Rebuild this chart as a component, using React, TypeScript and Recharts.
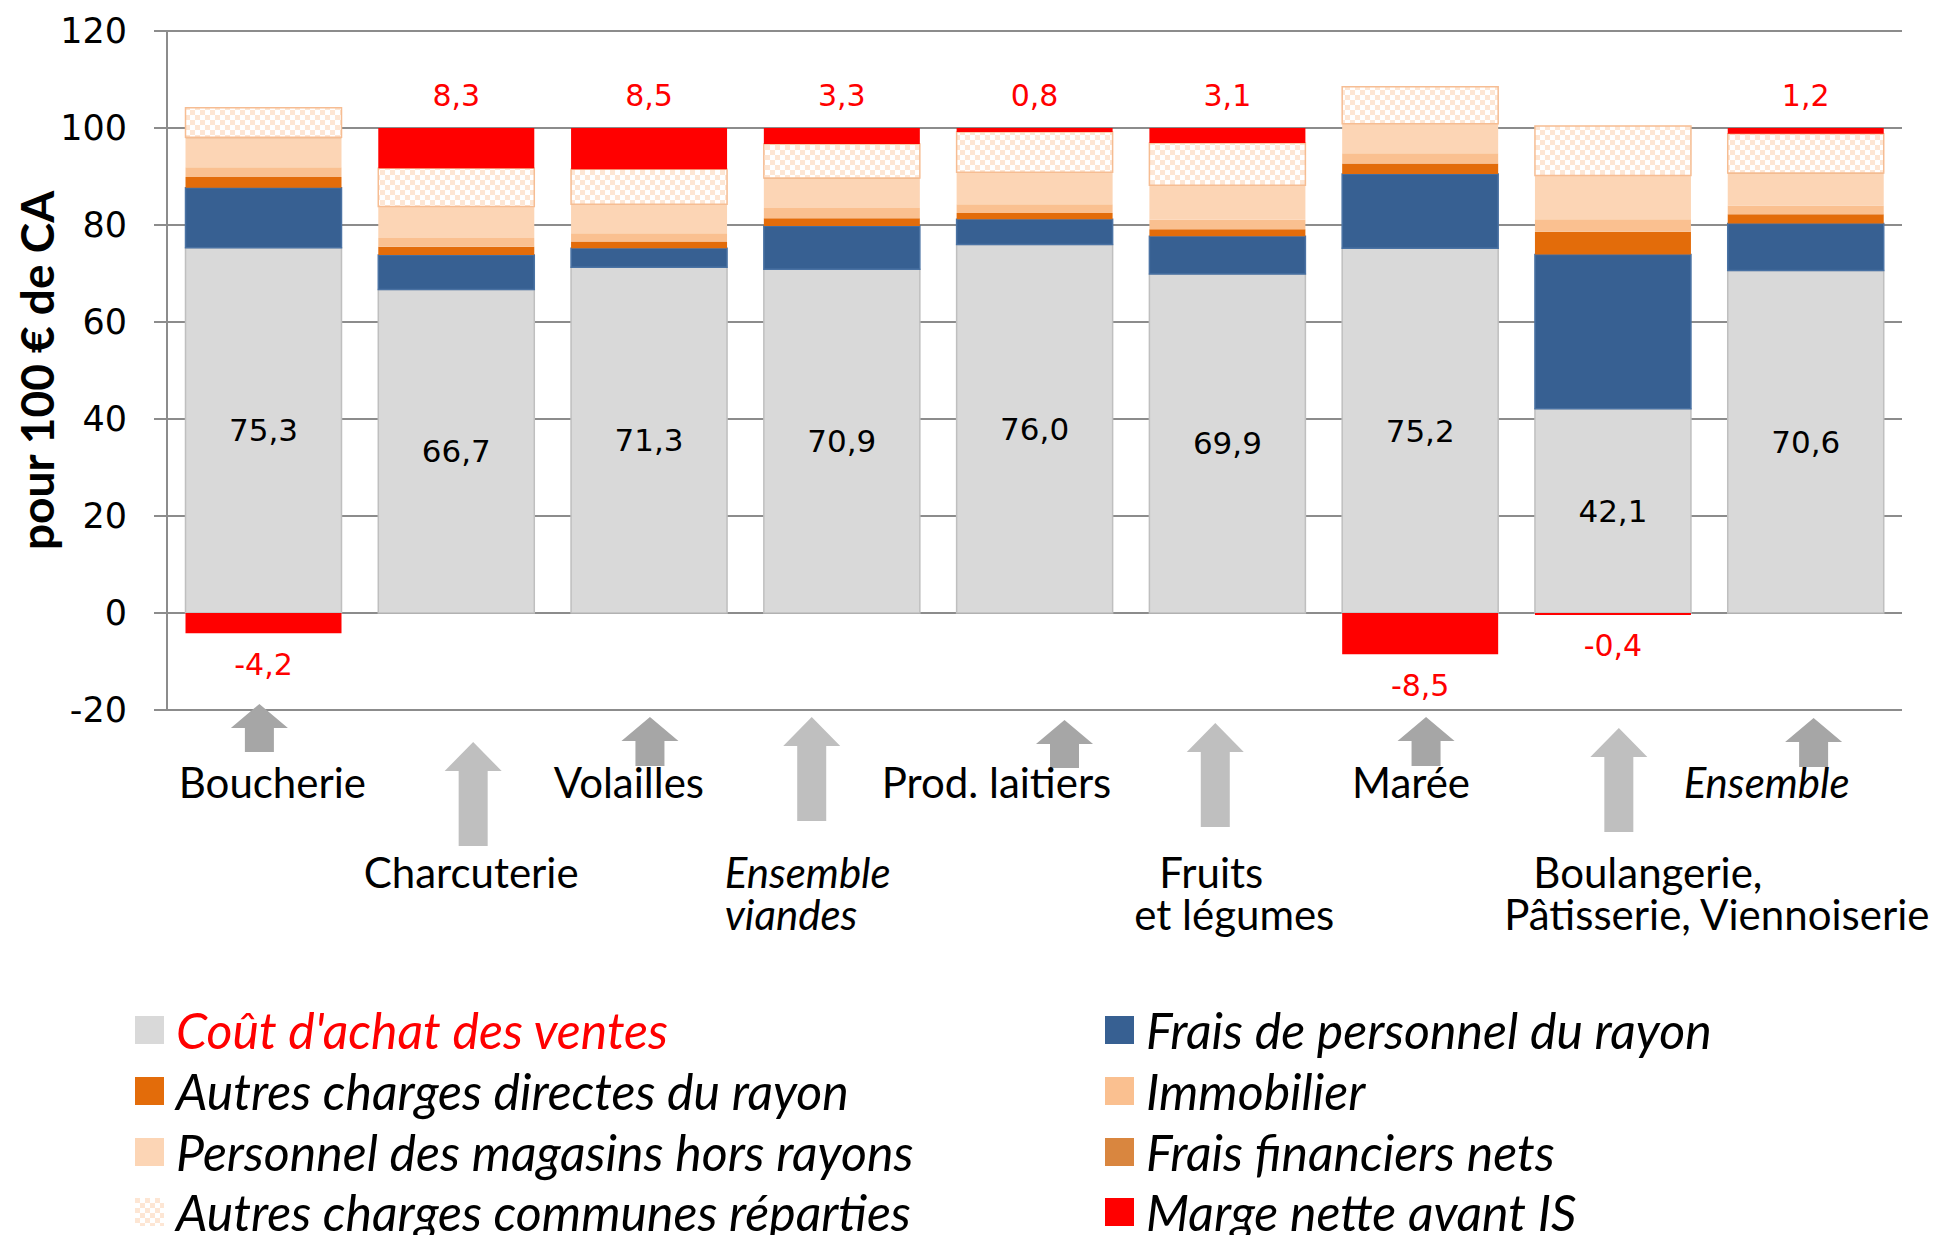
import React from 'react';
import { BarChart, Bar, XAxis, YAxis, CartesianGrid, LabelList, Label } from 'recharts';

// rayons (catégories) et libellés affichés sous l'axe
const categories = [
  'Boucherie',
  'Charcuterie',
  'Volailles',
  'Ensemble viandes',
  'Prod. laitiers',
  'Fruits et légumes',
  'Marée',
  'Boulangerie, Pâtisserie, Viennoiserie',
  'Ensemble',
];
const categoryLines = [
  ['Boucherie'],
  ['Charcuterie'],
  ['Volailles'],
  ['Ensemble', 'viandes'],
  ['Prod. laitiers'],
  ['Fruits', 'et légumes'],
  ['Marée'],
  ['Boulangerie,', 'Pâtisserie, Viennoiserie'],
  ['Ensemble'],
];
const italicCategories = ['Ensemble viandes', 'Ensemble'];

// pour 100 € de CA
const coutAchat = [75.3, 66.7, 71.3, 70.9, 76.0, 69.9, 75.2, 42.1, 70.6];
const fraisPersonnelRayon = [12.4, 7.1, 3.9, 8.9, 5.2, 7.8, 15.3, 31.8, 9.7];
const autresChargesDirectes = [2.2, 1.7, 1.4, 1.6, 1.3, 1.4, 2.2, 4.7, 1.9];
const immobilier = [2.0, 1.8, 1.7, 2.1, 1.8, 2.0, 2.1, 2.6, 1.8];
const personnelMagasins = [6.0, 6.4, 5.9, 6.1, 6.5, 7.0, 6.0, 8.9, 6.6];
const fraisFinanciers = [0.2, 0.1, 0.1, 0.1, 0.1, 0.1, 0.1, 0.1, 0.1];
const autresChargesCommunes = [6.1, 7.9, 7.2, 7.0, 8.3, 8.7, 7.6, 10.2, 8.1];
const margeNette = [-4.2, 8.3, 8.5, 3.3, 0.8, 3.1, -8.5, -0.4, 1.2];

const yTicks = [-20, 0, 20, 40, 60, 80, 100, 120];

const data = categories.map((name, i) => ({
  name,
  cout: coutAchat[i],
  persRayon: fraisPersonnelRayon[i],
  directes: autresChargesDirectes[i],
  immo: immobilier[i],
  persMag: personnelMagasins[i],
  financiers: fraisFinanciers[i],
  communes: autresChargesCommunes[i],
  marge: margeNette[i],
}));

const series = [
  { key: 'cout', name: "Coût d'achat des ventes", fill: '#D9D9D9', stroke: '#BFBFBF', text: '#FF0000' },
  { key: 'persRayon', name: 'Frais de personnel du rayon', fill: '#376092', stroke: '#4A72A3', text: '#000' },
  { key: 'directes', name: 'Autres charges directes du rayon', fill: '#E36C0A', stroke: 'none', text: '#000' },
  { key: 'immo', name: 'Immobilier', fill: '#FAC090', stroke: 'none', text: '#000' },
  { key: 'persMag', name: 'Personnel des magasins hors rayons', fill: '#FCD5B5', stroke: 'none', text: '#000' },
  { key: 'financiers', name: 'Frais financiers nets', fill: '#D9863F', stroke: 'none', text: '#000' },
  { key: 'communes', name: 'Autres charges communes réparties', fill: 'url(#checker)', stroke: '#F6BD93', text: '#000' },
  { key: 'marge', name: 'Marge nette avant IS', fill: '#FF0000', stroke: 'none', text: '#000' },
];

// ordre de lecture de la légende (deux colonnes)
const legendOrder = ['cout', 'persRayon', 'directes', 'immo', 'persMag', 'financiers', 'communes', 'marge'];

// flèches et textes sous l'axe, relatifs au centre de la catégorie et à l'axe
const tickDeco = [
  { adx: -4, tip: -6, bottom: 42, shade: '#A6A6A6', dx: [9], base: [88], anchor: 'middle' },
  { adx: 17, tip: 32, bottom: 136, shade: '#BFBFBF', dx: [15], base: [178], anchor: 'middle' },
  { adx: 1, tip: 7, bottom: 56, shade: '#A6A6A6', dx: [-20], base: [88], anchor: 'middle' },
  { adx: -30, tip: 7, bottom: 111, shade: '#BFBFBF', dx: [-117, -117], base: [178, 220], anchor: 'start' },
  { adx: 30, tip: 10, bottom: 58, shade: '#A6A6A6', dx: [-38], base: [88], anchor: 'middle' },
  { adx: -12, tip: 13, bottom: 117, shade: '#BFBFBF', dx: [-16, 7], base: [178, 220], anchor: 'middle' },
  { adx: 6, tip: 7, bottom: 56, shade: '#A6A6A6', dx: [-9], base: [88], anchor: 'middle' },
  { adx: 6, tip: 18, bottom: 122, shade: '#BFBFBF', dx: [35, 104], base: [178, 220], anchor: 'middle' },
  { adx: 8, tip: 8, bottom: 57, shade: '#A6A6A6', dx: [-39], base: [88], anchor: 'middle' },
];

const fmt = (v: number) => v.toFixed(1).replace('.', ',');

const CategoryTick = (props: any) => {
  const { x, y, index } = props;
  const d = tickDeco[index];
  const lines = categoryLines[index];
  const italic = italicCategories.includes(categories[index]);
  const ax = x + d.adx;
  const tip = y + d.tip;
  const bottom = y + d.bottom;
  const head = d.shade === '#A6A6A6' ? 24 : 29;
  const hw = 28.5;
  const sw = 14.5;
  const path = `M${ax},${tip} L${ax + hw},${tip + head} L${ax + sw},${tip + head} L${ax + sw},${bottom} L${ax - sw},${bottom} L${ax - sw},${tip + head} L${ax - hw},${tip + head} Z`;
  return (
    <g>
      <path d={path} fill={d.shade} />
      {lines.map((ln, k) => (
        <text
          key={k}
          x={x + d.dx[k]}
          y={y + d.base[k]}
          textAnchor={d.anchor}
          fontFamily="Lato"
          fontSize={42}
          fontStyle={italic ? 'italic' : 'normal'}
          fill="#000"
        >
          {ln}
        </text>
      ))}
    </g>
  );
};

const CoutLabel = (props: any) => {
  const { x, y, width, height, value } = props;
  return (
    <text
      x={x + width / 2}
      y={y + height / 2}
      textAnchor="middle"
      dominantBaseline="central"
      fontFamily="DejaVu Sans"
      fontSize={31}
      fill="#000"
    >
      {fmt(value)}
    </text>
  );
};

const MargeLabel = (props: any) => {
  const { x, y, width, height, value } = props;
  const top = Math.min(y, y + height);
  const bot = Math.max(y, y + height);
  const cy = value >= 0 ? top - 33 : bot + 31;
  return (
    <text
      x={x + width / 2}
      y={cy}
      textAnchor="middle"
      dominantBaseline="central"
      fontFamily="DejaVu Sans"
      fontSize={30}
      fill="#FF0000"
    >
      {fmt(value)}
    </text>
  );
};

const Swatch = ({ fill }: { fill: string }) => (
  <svg width={29} height={28} style={{ flex: 'none' }}>
    <rect x={0} y={0} width={29} height={28} fill={fill} />
  </svg>
);

export default function App() {
  return (
    <div style={{ position: 'absolute', left: 0, top: 0, width: 1937, height: 1235, background: '#fff', overflow: 'hidden' }}>
      <svg width={0} height={0} style={{ position: 'absolute' }}>
        <defs>
          <pattern id="checker" width={10} height={10} patternUnits="userSpaceOnUse">
            <rect width={10} height={10} fill="#FFFFFF" />
            <rect width={5} height={5} fill="#FDE6D4" />
            <rect x={5} y={5} width={5} height={5} fill="#FDE6D4" />
          </pattern>
        </defs>
      </svg>

      <BarChart
        width={1937}
        height={1235}
        data={data}
        stackOffset="sign"
        barCategoryGap="9.6%"
        margin={{ top: 31, right: 35, bottom: 0, left: 0 }}
      >
        <CartesianGrid vertical={false} stroke="#8C8C8C" strokeWidth={2} />
        <XAxis
          dataKey="name"
          height={525}
          interval={0}
          axisLine={false}
          tickLine={false}
          tickSize={0}
          tickMargin={0}
          tick={<CategoryTick />}
        />
        <YAxis
          domain={[-20, 120]}
          ticks={yTicks}
          interval={0}
          width={167}
          tickSize={13}
          tickMargin={27}
          axisLine={{ stroke: '#8C8C8C', strokeWidth: 2 }}
          tickLine={{ stroke: '#8C8C8C', strokeWidth: 2 }}
          tick={{ fontSize: 35, fontFamily: 'DejaVu Sans', fill: '#000' }}
        >
          <Label
            content={(p: any) => {
              const vb = p.viewBox;
              const cx = 36;
              const cy = vb.y + vb.height / 2;
              return (
                <text
                  x={cx}
                  y={cy}
                  transform={`rotate(-90, ${cx}, ${cy})`}
                  textAnchor="middle"
                  dominantBaseline="central"
                  fontFamily="Lato"
                  fontWeight="bold"
                  fontSize={46}
                  fill="#000"
                >
                  pour 100 € de CA
                </text>
              );
            }}
          />
        </YAxis>
        {series.map((s) => (
          <Bar
            key={s.key}
            dataKey={s.key}
            name={s.name}
            stackId="a"
            fill={s.fill}
            stroke={s.stroke}
            strokeWidth={s.stroke === 'none' ? 0 : 1.5}
            isAnimationActive={false}
          >
            {s.key === 'cout' && <LabelList dataKey="cout" content={<CoutLabel />} />}
            {s.key === 'marge' && <LabelList dataKey="marge" content={<MargeLabel />} />}
          </Bar>
        ))}
      </BarChart>

      <div
        style={{
          position: 'absolute',
          left: 135,
          top: 1000,
          display: 'grid',
          gridTemplateColumns: '970px 800px',
          gridAutoRows: '60.7px',
          fontFamily: 'Lato',
          fontStyle: 'italic',
          fontSize: 50,
        }}
      >
        {legendOrder.map((k) => {
          const s = series.find((q) => q.key === k)!;
          return (
            <div key={k} style={{ display: 'flex', alignItems: 'center', whiteSpace: 'nowrap' }}>
              <Swatch fill={s.fill} />
              <span style={{ marginLeft: 12, color: s.text, lineHeight: 1 }}>{s.name}</span>
            </div>
          );
        })}
      </div>
    </div>
  );
}
